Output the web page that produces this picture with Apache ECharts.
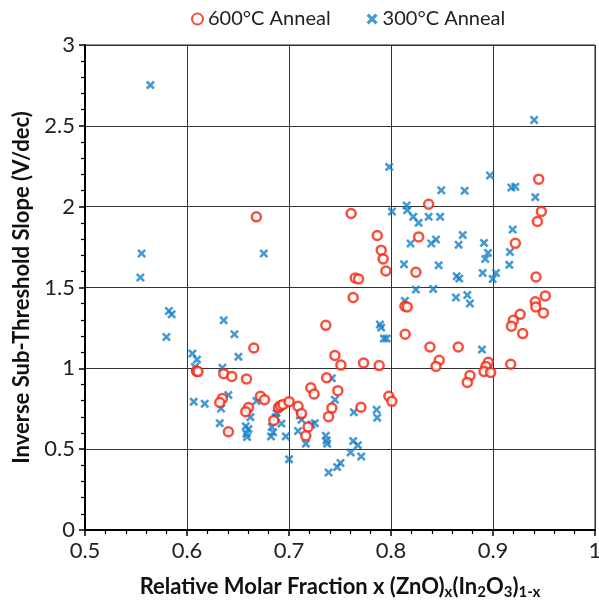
<!DOCTYPE html>
<html>
<head>
<meta charset="utf-8">
<script src="https://cdn.jsdelivr.net/npm/echarts@6/dist/echarts.min.js"></script>
<style>
  html, body { margin: 0; padding: 0; background: #fff; }
  #chart { width: 599px; height: 603px; }
</style>
</head>
<body>
<div id="chart"></div>
<script>
// 600°C anneal points [x, slope]
const anneal600 = [
  [0.668, 1.937], [0.6655, 1.126], [0.6092, 0.983], [0.6108, 0.980], [0.636, 0.967],
  [0.6439, 0.950], [0.6583, 0.934], [0.6347, 0.814], [0.6321, 0.789], [0.6603, 0.757],
  [0.6576, 0.732], [0.6406, 0.608], [0.7629, 1.438], [0.7361, 1.266], [0.8136, 1.384],
  [0.8159, 1.380], [0.8139, 1.211], [0.8382, 1.132], [0.745, 1.080], [0.7509, 1.020],
  [0.7731, 1.033], [0.7884, 1.017], [0.7368, 0.942], [0.7214, 0.880], [0.7246, 0.841],
  [0.7479, 0.862], [0.7979, 0.827], [0.8009, 0.796], [0.742, 0.754], [0.7388, 0.701],
  [0.7705, 0.759], [0.672, 0.827], [0.676, 0.806], [0.6897, 0.757], [0.6917, 0.769],
  [0.6942, 0.777], [0.7001, 0.794], [0.6851, 0.678], [0.7089, 0.765], [0.7123, 0.720],
  [0.7187, 0.637], [0.7165, 0.583], [0.7609, 1.958], [0.8369, 2.015], [0.7865, 1.822],
  [0.7904, 1.731], [0.7923, 1.677], [0.795, 1.602], [0.7649, 1.559], [0.7682, 1.553],
  [0.8271, 1.813], [0.8244, 1.594], [0.9448, 2.170], [0.9474, 1.970], [0.9435, 1.908],
  [0.9219, 1.773], [0.9422, 1.565], [0.9513, 1.448], [0.9415, 1.412], [0.942, 1.380],
  [0.9494, 1.342], [0.9266, 1.334], [0.9199, 1.297], [0.918, 1.260], [0.9291, 1.215],
  [0.8659, 1.132], [0.8473, 1.050], [0.8441, 1.012], [0.8954, 1.037], [0.8931, 1.012],
  [0.8912, 0.981], [0.8977, 0.975], [0.9174, 1.025], [0.8774, 0.955], [0.8748, 0.913]
];

// 300°C anneal points [x, slope]
const anneal300 = [
  [0.5641, 2.752], [0.5555, 1.710], [0.5543, 1.562], [0.5823, 1.355], [0.585, 1.334],
  [0.5798, 1.194], [0.636, 1.297], [0.6465, 1.211], [0.6053, 1.091], [0.6098, 1.054],
  [0.6504, 1.072], [0.6078, 1.008], [0.6347, 1.004], [0.6406, 0.835], [0.6066, 0.794],
  [0.6174, 0.781], [0.6334, 0.752], [0.6681, 0.798], [0.6622, 0.698], [0.6321, 0.661],
  [0.6576, 0.641], [0.6603, 0.624], [0.6583, 0.596], [0.6589, 0.575], [0.7891, 1.271],
  [0.7904, 1.252], [0.793, 1.184], [0.7957, 1.184], [0.8136, 1.417], [0.8244, 1.487],
  [0.742, 0.938], [0.745, 0.806], [0.7636, 0.728], [0.7859, 0.744], [0.7865, 0.695],
  [0.6877, 0.723], [0.687, 0.698], [0.6926, 0.658], [0.6831, 0.637], [0.6844, 0.604],
  [0.6824, 0.579], [0.6969, 0.579], [0.7001, 0.437], [0.7106, 0.709], [0.7123, 0.682],
  [0.7089, 0.612], [0.7221, 0.653], [0.7253, 0.661], [0.7165, 0.534], [0.7361, 0.583],
  [0.7368, 0.554], [0.7374, 0.534], [0.7388, 0.356], [0.7472, 0.389], [0.7505, 0.414],
  [0.7629, 0.550], [0.7675, 0.525], [0.7604, 0.480], [0.7708, 0.455], [0.6753, 1.710],
  [0.7982, 2.246], [0.8009, 1.970], [0.8153, 2.007], [0.8159, 1.978], [0.8218, 1.937],
  [0.8271, 1.900], [0.8192, 1.772], [0.8127, 1.644], [0.8369, 1.937], [0.8395, 1.772],
  [0.8441, 1.797], [0.9403, 2.536], [0.8971, 2.193], [0.918, 2.119], [0.9219, 2.123],
  [0.9415, 2.059], [0.8493, 2.102], [0.8722, 2.098], [0.8482, 1.937], [0.9193, 1.859],
  [0.8703, 1.825], [0.8663, 1.764], [0.8912, 1.776], [0.8951, 1.714], [0.8924, 1.677],
  [0.9166, 1.720], [0.8467, 1.638], [0.916, 1.640], [0.8644, 1.570], [0.8669, 1.555],
  [0.8899, 1.590], [0.9029, 1.590], [0.8997, 1.553], [0.8414, 1.491], [0.8637, 1.438],
  [0.8748, 1.454], [0.8774, 1.401], [0.8892, 1.116]
];

const seriesNames = ['600°C Anneal', '300°C Anneal'];
const RED = '#f5230c';
const BLUE = '#1580c8';
const FONT = 'Lato';
// filled "x" marker
const crossPath = 'path://M2,0 L5,3 L8,0 L10,2 L7,5 L10,8 L8,10 L5,7 L2,10 L0,8 L3,5 L0,2 Z';

const chart = echarts.init(document.getElementById('chart'));

const axisCommon = {
  type: 'value',
  axisLine: { show: true, onZero: false, lineStyle: { color: '#000', width: 2 } },
  axisTick: { show: true, length: 6, lineStyle: { color: '#000', width: 1.5 } },
  minorTick: { show: true, splitNumber: 5, length: 4, lineStyle: { color: '#000', width: 1.2 } },
  splitLine: { show: true, lineStyle: { color: '#333', width: 1 } },
  axisLabel: { color: '#222', fontFamily: FONT, fontSize: 22 },
  nameLocation: 'center',
  nameTextStyle: { color: '#111', fontFamily: FONT, fontWeight: 'bold', fontSize: 22 }
};

chart.setOption({
  backgroundColor: '#fff',
  animation: false,
  legend: {
    top: 4,
    left: 186,
    itemGap: 36,
    itemWidth: 11,
    itemHeight: 11,
    textStyle: { fontFamily: FONT, fontSize: 20, color: '#222' },
    data: seriesNames
  },
  grid: {
    left: 85, right: 4, top: 45, bottom: 73,
    outerBoundsMode: 'none', containLabel: false,
    show: true, borderColor: '#222', borderWidth: 1
  },
  xAxis: Object.assign({}, axisCommon, {
    min: 0.5, max: 1, interval: 0.1,
    axisLabel: Object.assign({}, axisCommon.axisLabel, { margin: 10 }),
    name: 'Relative Molar Fraction x (ZnO){s|x}(In{s|2}O{s|3}){s|1-x}',
    nameGap: 43,
    nameTextStyle: Object.assign({}, axisCommon.nameTextStyle, {
      rich: { s: { fontFamily: FONT, fontWeight: 'bold', fontSize: 15, color: '#111', verticalAlign: 'bottom', padding: [12, 0, 0, 0] } }
    })
  }),
  yAxis: Object.assign({}, axisCommon, {
    min: 0, max: 3, interval: 0.5,
    axisLabel: Object.assign({}, axisCommon.axisLabel, { margin: 10 }),
    name: 'Inverse Sub-Threshold Slope (V/dec)',
    nameGap: 52
  }),
  series: [
    {
      name: seriesNames[0],
      type: 'scatter',
      data: anneal600,
      symbol: 'circle',
      symbolSize: 9,
      itemStyle: { color: '#fff', borderColor: RED, borderWidth: 2.5 },
      z: 3
    },
    {
      name: seriesNames[1],
      type: 'scatter',
      data: anneal300,
      symbol: crossPath,
      symbolSize: 9,
      itemStyle: { color: BLUE },
      z: 2
    }
  ]
});
</script>
</body>
</html>
